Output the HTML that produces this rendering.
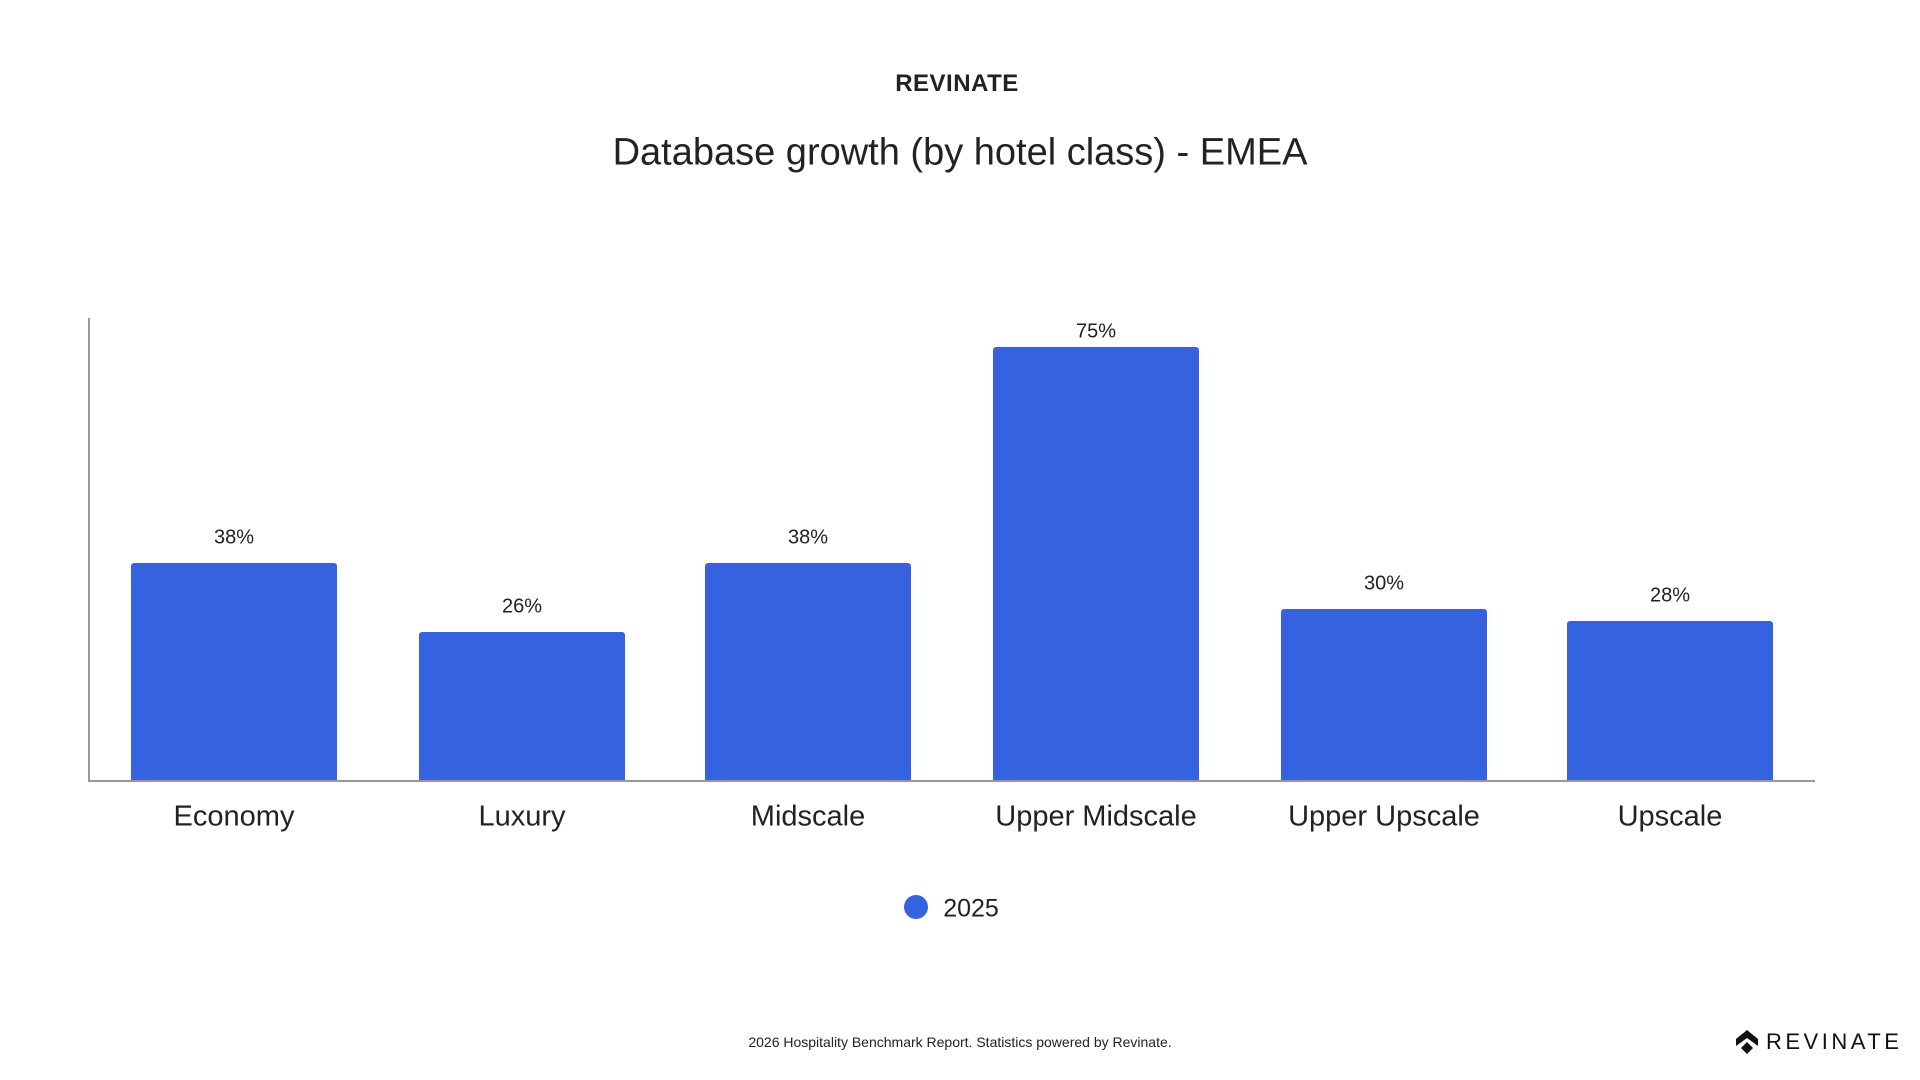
<!DOCTYPE html>
<html><head><meta charset="utf-8"><style>
body{margin:0;width:1920px;height:1080px;background:#fff;font-family:"Liberation Sans",sans-serif;color:#222;position:relative;overflow:hidden}
.t{position:absolute;white-space:nowrap;transform:translate(-50%,-50%)}
.bar{position:absolute;background:#3563e0;width:206px;border-radius:3px 3px 0 0}
</style></head><body>
<div class="t" style="left:957px;top:84px;font-size:24px;font-weight:bold;letter-spacing:0.5px">REVINATE</div>
<div class="t" style="left:960px;top:153px;font-size:38px">Database growth (by hotel class) - EMEA</div>
<div style="position:absolute;left:88px;top:318px;width:2px;height:464px;background:#999"></div>
<div style="position:absolute;left:88px;top:780px;width:1727px;height:2px;background:#999"></div>
<div class="bar" style="left:131px;top:563px;height:217px"></div>
<div class="bar" style="left:419px;top:632px;height:148px"></div>
<div class="bar" style="left:705px;top:563px;height:217px"></div>
<div class="bar" style="left:993px;top:347px;height:433px"></div>
<div class="bar" style="left:1281px;top:609px;height:171px"></div>
<div class="bar" style="left:1567px;top:621px;height:159px"></div>
<div class="t" style="left:234px;top:538px;font-size:20px">38%</div>
<div class="t" style="left:522px;top:607px;font-size:20px">26%</div>
<div class="t" style="left:808px;top:538px;font-size:20px">38%</div>
<div class="t" style="left:1096px;top:332px;font-size:20px">75%</div>
<div class="t" style="left:1384px;top:584px;font-size:20px">30%</div>
<div class="t" style="left:1670px;top:596px;font-size:20px">28%</div>
<div class="t" style="left:234px;top:817px;font-size:29px">Economy</div>
<div class="t" style="left:522px;top:817px;font-size:29px">Luxury</div>
<div class="t" style="left:808px;top:817px;font-size:29px">Midscale</div>
<div class="t" style="left:1096px;top:817px;font-size:29px">Upper Midscale</div>
<div class="t" style="left:1384px;top:817px;font-size:29px">Upper Upscale</div>
<div class="t" style="left:1670px;top:817px;font-size:29px">Upscale</div>
<div style="position:absolute;left:904px;top:895px;width:24px;height:24px;border-radius:50%;background:#3563e0"></div>
<div class="t" style="left:971px;top:909px;font-size:25px">2025</div>
<div class="t" style="left:960px;top:1042px;font-size:14px">2026 Hospitality Benchmark Report. Statistics powered by Revinate.</div>
<svg style="position:absolute;left:1736px;top:1030px" width="22" height="24" viewBox="0 0 22 24"><path d="M11 0 L22 9 L22 16 L11 8 L0 16 L0 9 Z" fill="#111"/><path d="M11 12 L17 18 L11 24 L5 18 Z" fill="#111"/></svg>
<div style="position:absolute;left:1766px;top:1029px;font-size:22px;letter-spacing:3.5px;color:#111">REVINATE</div>
</body></html>
